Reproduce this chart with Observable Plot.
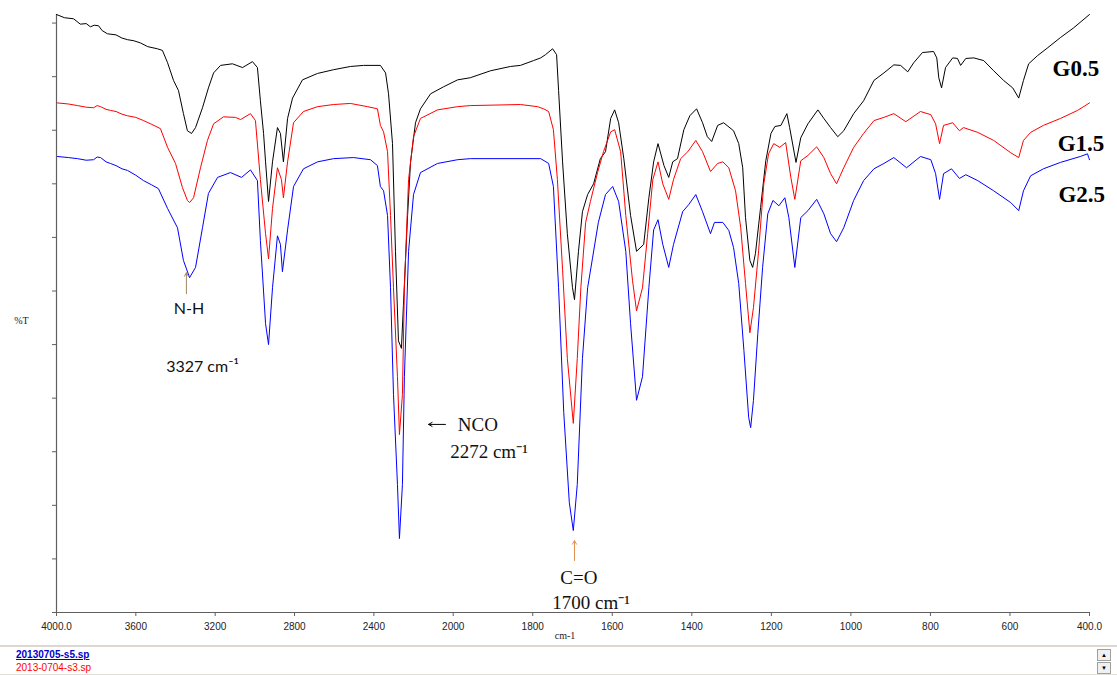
<!DOCTYPE html>
<html>
<head>
<meta charset="utf-8">
<script src="https://cdn.jsdelivr.net/npm/d3@7"></script>
<script src="https://cdn.jsdelivr.net/npm/@observablehq/plot@0.6"></script>
<style>
  html, body { margin: 0; padding: 0; background: #fff; }
  #wrap { width: 1117px; height: 675px; position: relative; overflow: hidden; }
  #files { position: absolute; left: 0; top: 645px; width: 1117px; height: 30px;
           border-top: 2px solid #dcd8d0; border-bottom: 1px solid #e4e0d8; box-sizing: border-box;
           font-family: "Liberation Sans", Arial, sans-serif; font-size: 10px; }
  #files .f1 { position: absolute; left: 16px; top: 2px; color: #0000cc; font-weight: bold; text-decoration: underline; }
  #files .f2 { position: absolute; left: 16px; top: 15px; color: #ff0000; }
  #sb { position: absolute; left: 1097px; top: 2px; width: 14px; height: 24px; }
  #sb div { width: 12px; height: 10px; border: 1px solid #a0a0a0; background: #f0f0f0;
            font-size: 6px; line-height: 10px; text-align: center; color: #000; margin-bottom: 1px; }
</style>
</head>
<body>
<div id="wrap">
  <div id="chart"></div>
  <div id="files">
    <span class="f1">20130705-s5.sp</span>
    <span class="f2">2013-0704-s3.sp</span>
    <div id="sb"><div>&#9650;</div><div>&#9660;</div></div>
  </div>
</div>
<script>
// x ticks (wavenumber, cm-1) and their labels
const xTicks = [4000, 3600, 3200, 2800, 2400, 2000, 1800, 1600, 1400, 1200, 1000, 800, 600, 400];
const xTickLabels = ["4000.0", "3600", "3200", "2800", "2400", "2000", "1800", "1600", "1400", "1200", "1000", "800", "600", "400.0"];
// y ticks (%T, unlabeled)
const yTicks = [0, 10, 20, 30, 40, 50, 60, 70, 80, 90, 100, 110];

// series: [wavenumber, %T]
const g05 = [
  [4000,111.6],[3960,111.0],[3914,110.8],[3880,109.8],[3850,109.9],[3829,109.3],[3810,109.6],[3788,109.5],
  [3770,108.6],[3743,108.0],[3700,107.8],[3670,107.2],[3642,106.9],[3610,106.7],[3577,106.3],[3540,105.6],
  [3491,105.2],[3466,104.9],[3440,102.6],[3410,99.3],[3385,97.4],[3360,93.1],[3340,89.9],[3319,89.4],[3299,90.5],
  [3264,94.2],[3234,97.9],[3208,100.7],[3173,102.1],[3113,102.4],[3062,101.7],[3012,102.8],[2987,101.7],
  [2972,95.5],[2956,89.4],[2946,84.1],[2931,76.7],[2911,84.1],[2886,90.5],[2871,89.4],[2856,84.1],
  [2835,92.2],[2810,96.0],[2760,99.4],[2684,100.6],[2603,101.3],[2518,101.9],[2452,102.1],[2367,102.1],
  [2341,100.7],[2326,96.8],[2306,87.5],[2291,67.4],[2276,50.7],[2261,49.3],[2251,57.3],[2230,74.1],
  [2215,84.1],[2190,91.4],[2165,94.0],[2114,96.8],[2049,98.1],[1989,99.4],[1957,99.8],[1906,101.1],
  [1856,101.9],[1831,102.1],[1798,103.0],[1780,103.5],[1768,104.1],[1750,105.2],[1740,104.1],[1735,97.4],
  [1725,84.1],[1713,70.7],[1700,60.6],[1695,58.4],[1685,67.4],[1675,74.8],[1662,78.0],[1647,80.0],
  [1630,84.7],[1617,86.0],[1604,92.2],[1594,93.8],[1584,91.4],[1571,84.7],[1554,74.1],[1539,67.4],
  [1521,68.7],[1508,77.4],[1496,84.1],[1485,87.5],[1470,83.4],[1458,81.2],[1448,84.1],[1436,84.7],
  [1420,90.1],[1405,92.7],[1388,94.0],[1373,91.4],[1361,88.8],[1350,87.9],[1335,90.9],[1320,91.4],
  [1295,89.9],[1282,87.5],[1272,83.0],[1265,73.7],[1254,65.7],[1247,64.4],[1240,67.0],[1227,75.6],
  [1214,84.3],[1201,89.4],[1191,90.7],[1176,90.9],[1161,93.1],[1154,90.5],[1138,84.0],[1126,88.6],
  [1108,91.2],[1083,93.8],[1068,92.2],[1051,90.5],[1033,88.8],[1018,89.9],[993,93.1],[968,95.5],
  [942,99.3],[917,100.7],[892,102.2],[875,102.1],[857,100.9],[842,102.6],[820,104.5],[792,104.7],
  [784,103.5],[779,99.8],[772,97.9],[762,101.7],[744,103.5],[732,103.4],[724,102.1],[711,103.4],
  [691,103.5],[666,103.0],[641,101.1],[616,99.3],[593,97.9],[578,96.0],[566,99.3],[553,102.4],
  [531,103.9],[505,105.4],[473,107.3],[440,109.1],[400,111.6]
];
const g15 = [
  [3995,95.1],[3940,94.9],[3894,94.6],[3850,94.3],[3813,94.2],[3795,94.6],[3778,94.4],[3750,93.9],[3728,93.7],
  [3700,93.5],[3670,93.0],[3642,92.7],[3600,92.4],[3561,91.8],[3520,91.1],[3476,90.3],
  [3440,86.8],[3400,83.8],[3365,79.3],[3340,76.9],[3329,76.5],[3309,77.4],[3274,83.0],[3239,88.1],
  [3208,91.2],[3158,92.5],[3098,92.4],[3072,92.0],[3022,93.1],[2997,91.8],[2972,80.8],[2946,70.7],
  [2931,66.0],[2911,75.4],[2886,83.0],[2866,80.8],[2856,77.4],[2835,84.1],[2805,91.4],[2755,93.5],
  [2684,94.4],[2603,94.8],[2518,95.0],[2432,94.4],[2382,94.0],[2367,90.9],[2351,89.7],[2331,86.0],
  [2316,74.1],[2301,60.6],[2281,44.0],[2271,33.2],[2256,40.7],[2246,60.6],[2225,80.8],[2200,88.8],
  [2165,92.2],[2079,93.8],[1989,94.4],[1957,94.6],[1831,94.8],[1788,94.4],[1773,94.0],[1760,93.5],
  [1748,90.1],[1738,80.8],[1725,64.0],[1713,47.4],[1698,35.3],[1688,47.4],[1679,60.6],[1667,72.8],
  [1655,76.7],[1637,82.1],[1622,86.0],[1604,89.7],[1594,90.1],[1579,86.0],[1566,74.1],[1549,61.9],
  [1539,56.3],[1524,60.6],[1511,70.7],[1498,80.8],[1485,84.1],[1473,80.0],[1458,77.1],[1446,80.8],
  [1428,84.7],[1410,86.0],[1390,88.1],[1373,86.0],[1353,82.3],[1335,83.8],[1322,84.1],[1307,83.0],
  [1290,78.7],[1277,71.8],[1265,61.4],[1254,52.2],[1245,56.9],[1232,67.5],[1219,80.0],[1207,85.6],
  [1194,87.5],[1179,86.8],[1164,87.7],[1151,81.2],[1141,77.1],[1126,84.3],[1108,85.3],[1086,86.9],
  [1068,84.9],[1051,81.9],[1036,80.0],[1018,83.0],[993,86.8],[968,89.4],[942,91.8],[917,92.4],
  [892,93.1],[862,91.6],[825,93.5],[799,92.9],[787,91.2],[777,87.5],[767,90.9],[744,91.4],
  [727,89.9],[717,90.5],[681,89.6],[641,88.1],[598,85.8],[578,84.9],[566,88.1],[548,89.6],
  [516,90.9],[473,92.2],[430,93.7],[400,95.1]
];
const g25 = [
  [3995,85.1],[3940,84.9],[3894,84.7],[3850,84.4],[3813,84.5],[3795,85.0],[3778,84.9],[3750,84.1],[3728,83.8],
  [3700,83.4],[3670,82.8],[3642,82.5],[3600,81.6],[3561,80.6],[3520,79.8],[3486,79.1],
  [3440,75.4],[3390,71.8],[3360,65.7],[3329,62.5],[3299,64.4],[3264,71.8],[3234,78.2],[3188,81.2],
  [3123,82.1],[3067,81.2],[3022,82.6],[2987,80.6],[2972,69.4],[2946,53.9],[2931,50.0],[2911,60.6],
  [2886,70.3],[2871,68.7],[2861,63.6],[2835,71.4],[2805,79.5],[2755,82.8],[2684,84.1],[2603,84.7],
  [2503,84.9],[2417,84.5],[2382,83.4],[2367,79.5],[2351,78.7],[2331,74.1],[2316,60.6],[2301,40.7],
  [2281,23.9],[2271,13.8],[2256,23.9],[2246,44.0],[2225,67.4],[2200,78.0],[2165,82.1],[2079,83.8],
  [1989,84.5],[1957,84.7],[1780,84.7],[1760,83.8],[1748,79.5],[1735,60.6],[1722,37.3],[1708,20.5],
  [1698,15.3],[1688,23.9],[1675,47.4],[1662,60.6],[1650,66.0],[1635,72.8],[1617,78.0],[1599,79.5],
  [1584,76.7],[1566,67.4],[1554,53.9],[1539,39.6],[1524,44.0],[1508,60.6],[1496,71.4],[1485,73.3],
  [1473,68.7],[1458,64.4],[1446,68.7],[1423,74.8],[1408,76.1],[1390,78.0],[1373,74.8],[1353,70.7],
  [1343,72.8],[1322,72.8],[1307,71.3],[1295,68.1],[1282,61.4],[1269,48.9],[1257,36.4],[1252,34.5],
  [1245,39.6],[1234,52.1],[1222,64.4],[1209,74.4],[1196,76.9],[1181,75.9],[1166,77.4],[1156,73.7],
  [1141,64.4],[1126,73.7],[1108,75.0],[1086,77.1],[1068,74.4],[1051,70.7],[1036,69.2],[1018,71.8],
  [993,76.9],[968,80.6],[942,82.8],[917,83.8],[892,84.9],[860,83.0],[825,85.1],[799,84.5],
  [787,81.9],[777,77.1],[767,81.9],[747,82.8],[727,81.0],[711,81.7],[681,80.6],[641,78.7],
  [598,76.5],[578,75.0],[566,78.7],[548,81.5],[516,82.8],[473,84.0],[423,85.1],[405,85.6],
  [402,84.9],[400,84.5]
];

// series labels
const seriesNames = ["G0.5", "G1.5", "G2.5"];
const seriesLabelPos = [[493, 101.5], [480, 87.5], [478, 78.0]];

// peak annotations
const sansNotes = [
  {text: "N-H", wn: 3332, t: 56.7},
  {text: "3327 cm\u207B\u00B9", wn: 3264, t: 45.9}
];
const serifNotes = [
  {text: "NCO", wn: 1938, t: 35.1},
  {text: "2272 cm\u207B\u00B9", wn: 1910, t: 30.0},
  {text: "C=O", wn: 1684, t: 6.5},
  {text: "1700 cm\u207B\u00B9", wn: 1653, t: 1.7}
];
const arrows = [
  {x1: 3345, y1: 59.5, x2: 3345, y2: 63.4, color: "#a08868"},
  {x1: 1695, y1: 9.7, x2: 1695, y2: 13.4, color: "#e09050"},
  {x1: 2039, y1: 35.1, x2: 2124, y2: 35.1, color: "#000000"}
];

const fmt = d => xTickLabels[xTicks.indexOf(d)];
const colors = ["#000000", "#ff0000", "#0000ff"];
const series = [g05, g15, g25];

const marks = [
  Plot.ruleX([4000], {stroke: "#606060", strokeWidth: 1.2}),
  Plot.ruleY([0], {stroke: "#606060", strokeWidth: 1.2}),
  Plot.axisX(xTicks, {tickSize: 4, tickPadding: 6, tickFormat: fmt, fontSize: 10, stroke: "#606060", fill: "#222", label: null}),
  Plot.axisY(yTicks, {tickSize: 4, tickFormat: () => "", stroke: "#606060", label: null}),
  Plot.text(["%T"], {frameAnchor: "left", textAnchor: "middle", dx: -35, dy: 7, fontSize: 10, fontFamily: "Liberation Serif", fill: "#222"}),
  Plot.text(["cm-1"], {frameAnchor: "bottom", dx: -8, dy: 26, fontSize: 10, fontFamily: "Liberation Serif", fill: "#222"})
];
series.forEach((s, i) => {
  marks.push(Plot.line(s, {x: d => d[0], y: d => d[1], stroke: colors[i], strokeWidth: 1}));
});
seriesNames.forEach((n, i) => {
  marks.push(Plot.text([n], {x: () => seriesLabelPos[i][0], y: () => seriesLabelPos[i][1], textAnchor: "start",
    fontSize: 23, fontWeight: "bold", fontFamily: "Liberation Serif", fill: "#000"}));
});
marks.push(Plot.text(sansNotes, {x: "wn", y: "t", text: "text", fontSize: 16, fontFamily: "Lato, 'Open Sans', sans-serif", fill: "#111"}));
marks.push(Plot.text(serifNotes, {x: "wn", y: "t", text: "text", fontSize: 19, fontFamily: "'Liberation Serif', serif", fill: "#111"}));
marks.push(Plot.arrow(arrows, {x1: "x1", y1: "y1", x2: "x2", y2: "y2", stroke: d => d.color, strokeWidth: 1, headLength: 6}));

const chart = Plot.plot({
  width: 1117,
  height: 645,
  marginLeft: 56,
  marginRight: 28,
  marginTop: 14,
  marginBottom: 33,
  style: {background: "#fff", fontFamily: "'Liberation Sans', Arial, sans-serif"},
  x: {type: "linear", domain: [4000, 2000, 400], range: [56, 452.7, 1089], label: null},
  y: {type: "linear", domain: [0, 111.6], range: [612, 14], label: null},
  color: {type: "identity"},
  marks
});
document.getElementById("chart").appendChild(chart);
</script>
</body>
</html>
